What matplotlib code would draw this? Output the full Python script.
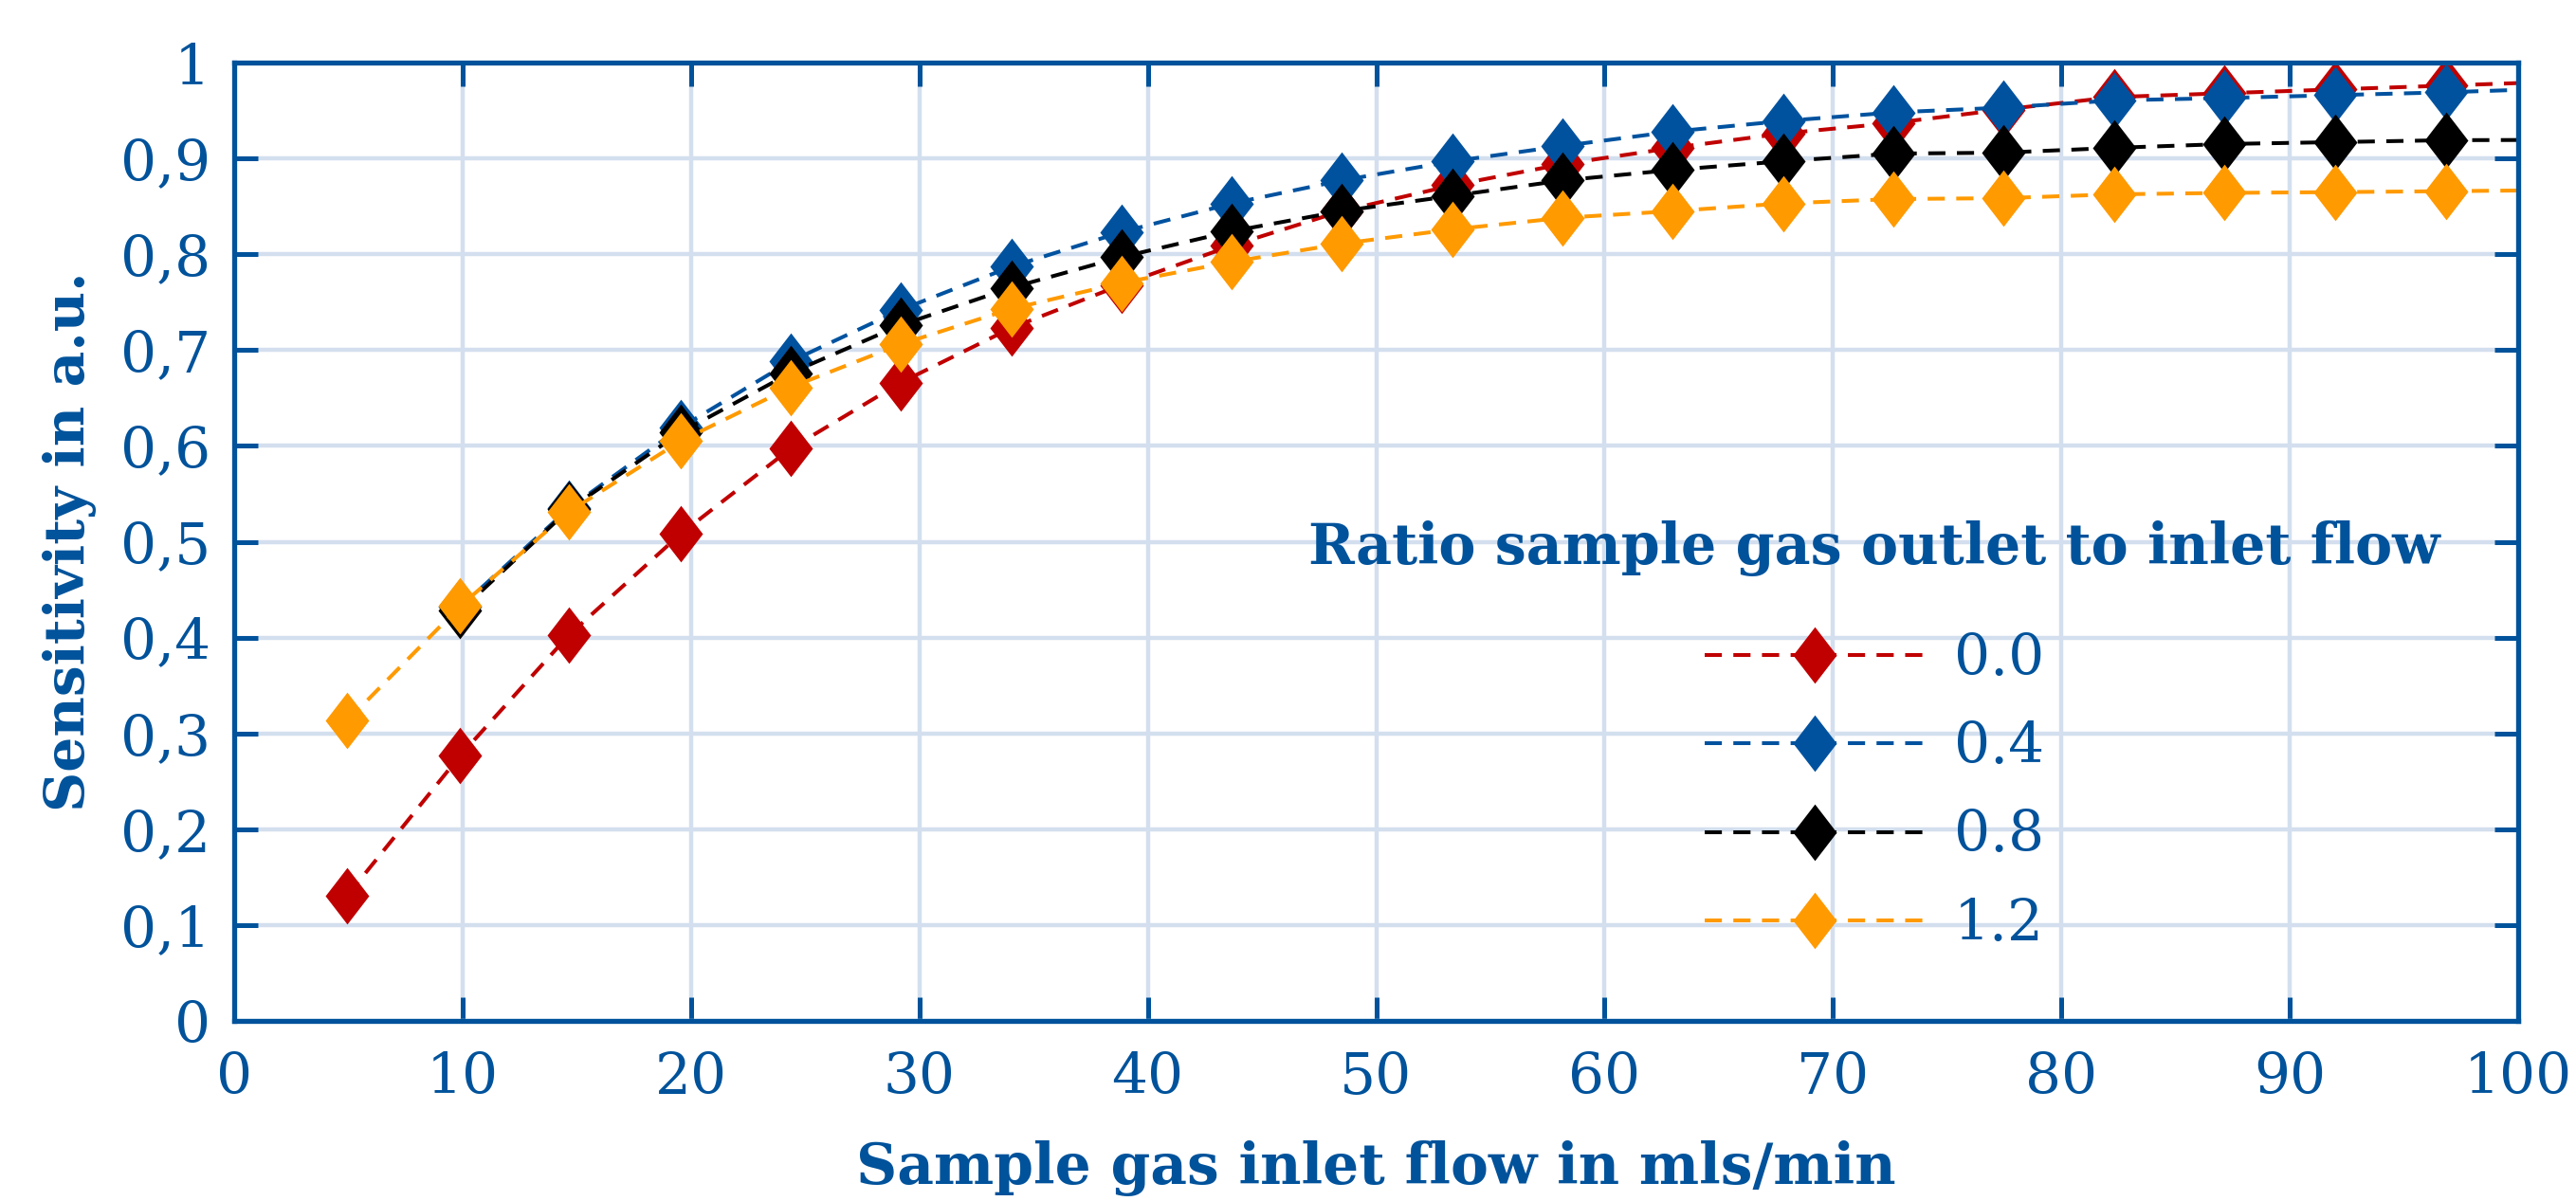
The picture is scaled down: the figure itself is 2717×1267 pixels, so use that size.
import matplotlib
matplotlib.use("Agg")
import matplotlib.pyplot as plt
from matplotlib.path import Path
from matplotlib.lines import Line2D
from matplotlib.ticker import FixedLocator, FuncFormatter

# ---------------- data ----------------
x_all = [4.96, 9.90, 14.67, 19.54, 24.35, 29.18, 34.02, 38.84, 43.68, 48.48,
         53.36, 58.17, 62.99, 67.82, 72.65, 77.45, 82.30, 87.14, 91.99, 96.86]
x_from10 = x_all[1:]

ratio_labels = ["0.0", "0.4", "0.8", "1.2"]
legend_title = "Ratio sample gas outlet to inlet flow"

sens_00 = [0.131, 0.277, 0.403, 0.508, 0.597, 0.666, 0.723, 0.768, 0.809, 0.845,
           0.872, 0.894, 0.911, 0.926, 0.937, 0.951, 0.964, 0.968, 0.972, 0.976]
sens_04 = [0.432, 0.535, 0.619, 0.688, 0.742, 0.787, 0.823, 0.853, 0.877, 0.897,
           0.913, 0.928, 0.939, 0.948, 0.953, 0.9605, 0.963, 0.966, 0.969]
sens_08 = [0.428, 0.534, 0.614, 0.676, 0.726, 0.765, 0.797, 0.824, 0.845, 0.861,
           0.877, 0.888, 0.897, 0.905, 0.906, 0.911, 0.915, 0.917, 0.919]
sens_12 = [0.3135, 0.433, 0.5315, 0.605, 0.661, 0.706, 0.743, 0.770, 0.792, 0.811,
           0.826, 0.838, 0.845, 0.853, 0.8576, 0.8585, 0.8625, 0.864, 0.8648, 0.8658]

# end of the fitted dashed curves at the right axis limit
x_curve_end = 100
curve_end = [0.9786, 0.9715, 0.9192, 0.8665]

x_ticks = [0, 10, 20, 30, 40, 50, 60, 70, 80, 90, 100]
y_ticks = [0, 0.1, 0.2, 0.3, 0.4, 0.5, 0.6, 0.7, 0.8, 0.9, 1]

# ---------------- styling ----------------
BLUE_TXT = "#00529B"
colors = ["#C00000", "#00529F", "#000000", "#FF9A00"]
GRID = "#d3dfee"
FONT = "DejaVu Serif"

plt.rcParams["font.family"] = [FONT]

W, H, DPI = 2717, 1267, 200
fig = plt.figure(figsize=(W / DPI, H / DPI), dpi=DPI)
ax = fig.add_axes([247 / W, 1 - 1077 / H, (2656 - 247) / W, (1077 - 66) / H])

# diamond marker, width/height ~0.77
diamond = Path([(0, 1), (0.77, 0), (0, -1), (-0.77, 0), (0, 1)],
               [Path.MOVETO, Path.LINETO, Path.LINETO, Path.LINETO, Path.CLOSEPOLY])
MS = 21.5
LW = 1.45
DASH = (0, (4.5, 3.0))

series = [
    (x_all, sens_00),
    (x_from10, sens_04),
    (x_from10, sens_08),
    (x_all, sens_12),
]

handles = []
for i, ((xs, ys), c) in enumerate(zip(series, colors)):
    ax.plot(list(xs) + [x_curve_end], list(ys) + [curve_end[i]],
            color=c, lw=LW, linestyle=DASH, zorder=3 + i)
    ax.plot(xs, ys, linestyle="none", marker=diamond, markersize=MS,
            markerfacecolor=c, markeredgewidth=0, zorder=3 + i)
    handles.append(Line2D([], [], color=c, lw=LW, linestyle=DASH, marker=diamond,
                          markersize=MS, markerfacecolor=c, markeredgewidth=0))

ax.set_xlim(0, 100)
ax.set_ylim(0, 1)
ax.xaxis.set_major_locator(FixedLocator(x_ticks))
ax.yaxis.set_major_locator(FixedLocator(y_ticks))


def yfmt(v, pos):
    if abs(v) < 1e-9:
        return "0"
    if abs(v - 1) < 1e-9:
        return "1"
    return ("%.1f" % v).replace(".", ",")


ax.yaxis.set_major_formatter(FuncFormatter(yfmt))
ax.xaxis.set_major_formatter(FuncFormatter(lambda v, p: "%d" % v))

ax.grid(True, color=GRID, lw=1.6, zorder=0)
ax.set_axisbelow(True)

for s in ax.spines.values():
    s.set_color(BLUE_TXT)
    s.set_linewidth(1.9)
    s.set_zorder(10)

TICK_FS = 21.5
ax.tick_params(axis="both", which="major", direction="in", length=9, width=1.8,
               color=BLUE_TXT, labelcolor=BLUE_TXT, labelsize=TICK_FS,
               top=True, right=True)
ax.tick_params(axis="x", pad=11)
ax.tick_params(axis="y", pad=9)

ax.set_xlabel("Sample gas inlet flow in mls/min", fontsize=21.5,
              fontweight="bold", color=BLUE_TXT, va="center")
ax.xaxis.set_label_coords(0.5, (1077 - 1233) / 1011)
ax.set_ylabel("Sensitivity in a.u.", fontsize=21, fontweight="bold",
              color=BLUE_TXT, va="center", ha="center")
ax.yaxis.set_label_coords((74 - 247) / 2409, 0.5)

leg = ax.legend(handles, ratio_labels,
                loc="upper center", bbox_to_anchor=(1977 / W, 1 - 666 / H),
                bbox_transform=fig.transFigure, frameon=False, borderpad=0,
                borderaxespad=0, fontsize=TICK_FS, handlelength=3.9,
                handletextpad=0.5, labelspacing=0.59)
for t in leg.get_texts():
    t.set_color(BLUE_TXT)
leg.set_zorder(20)

fig.text(1977 / W, 1 - 579 / H, legend_title, fontsize=21.1, fontweight="bold",
         color=BLUE_TXT, ha="center", va="center", zorder=20)

fig.savefig("out.png", dpi=DPI)
